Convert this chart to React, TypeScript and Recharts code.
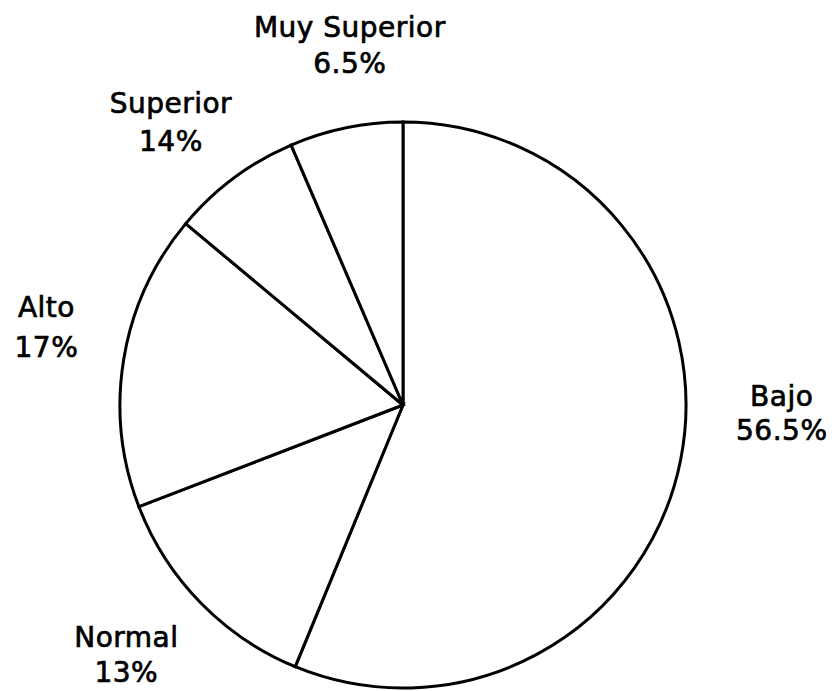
import React from 'react';
import { PieChart, Pie, Cell } from 'recharts';

const categories = ['Bajo', 'Normal', 'Alto', 'Superior', 'Muy Superior'];
const values = [56.5, 13, 17, 7.5, 6.5];
const percentLabels = ['56.5%', '13%', '17%', '14%', '6.5%'];

const data = categories.map((name, i) => ({ name, value: values[i] }));

const RADIAN = Math.PI / 180;
const LABEL_GAP = 45;
const labelNudges = [
  { dx: 57, dy: -63, gap: 34 },
  { dx: -42, dy: 13, gap: 35 },
  { dx: -33, dy: -34, gap: 40 },
  { dx: -36, dy: -29, gap: 38 },
  { dx: 13, dy: -47, gap: 36 },
];

const FONT = '"DejaVu Sans", "Liberation Sans", Arial, sans-serif';

const renderLabel = (props: any) => {
  const { cx, cy, midAngle, outerRadius, index } = props;
  const nudge = labelNudges[index] || { dx: 0, dy: 0, gap: 36 };
  const r = outerRadius + LABEL_GAP;
  const x = cx + r * Math.cos(-midAngle * RADIAN) + nudge.dx;
  const y = cy + r * Math.sin(-midAngle * RADIAN) + nudge.dy;
  return (
    <text
      x={x}
      y={y}
      textAnchor="middle"
      fill="#000"
      stroke="#000"
      strokeWidth={0.7}
      style={{ fontFamily: FONT, fontSize: 28, letterSpacing: 0.5 }}
    >
      <tspan x={x} y={y}>{categories[index]}</tspan>
      <tspan x={x} y={y + nudge.gap}>{percentLabels[index]}</tspan>
    </text>
  );
};

export default function App() {
  return (
    <div style={{ position: 'absolute', left: 0, top: 0, width: 834, height: 691, background: '#fff' }}>
      <PieChart width={834} height={691} margin={{ top: 0, right: 0, bottom: 0, left: 0 }}>
        <Pie
          data={data}
          dataKey="value"
          nameKey="name"
          cx={403}
          cy={405}
          innerRadius={0}
          outerRadius={283}
          startAngle={90}
          endAngle={-270}
          stroke="#000"
          strokeWidth={3}
          fill="#fff"
          label={renderLabel}
          labelLine={false}
          isAnimationActive={false}
        >
          {data.map((d) => (
            <Cell key={d.name} fill="#fff" stroke="#000" strokeWidth={3} />
          ))}
        </Pie>
      </PieChart>
    </div>
  );
}
